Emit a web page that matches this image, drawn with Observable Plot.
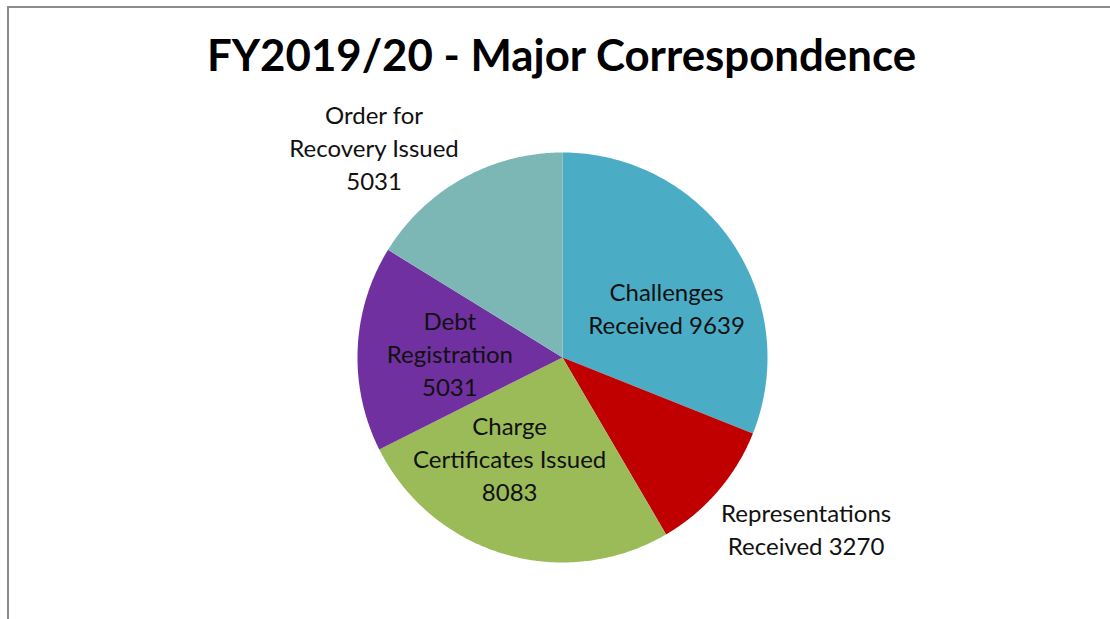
<!DOCTYPE html>
<html>
<head>
<meta charset="utf-8">
<script src="https://cdn.jsdelivr.net/npm/d3@7"></script>
<script src="https://cdn.jsdelivr.net/npm/@observablehq/plot@0.6"></script>
<style>
  html, body { margin: 0; padding: 0; background: #fff; }
  #wrap { position: relative; width: 1110px; height: 619px; overflow: hidden; }
  #frame { position: absolute; left: 7px; top: 6px; width: 1200px; height: 700px;
           border-left: 2px solid #8c8c8c; border-top: 2px solid #8c8c8c; box-sizing: border-box; }
  #title { position: absolute; left: 0; width: 1123px; top: 28px; text-align: center;
           font-family: Lato, "Open Sans", sans-serif; font-weight: bold; font-size: 43.8px; color: #000; line-height: 1.2; }
  #chart { position: absolute; left: 0; top: 0; }
</style>
</head>
<body>
<div id="wrap">
  <div id="frame"></div>
  <div id="chart"></div>
  <div id="title">FY2019/20 - Major Correspondence</div>
</div>
<script>
const categories = ["Challenges Received", "Representations Received", "Charge Certificates Issued", "Debt Registration", "Order for Recovery Issued"];
const values = [9639, 3270, 8083, 5031, 5031];
const labelLines = [
  ["Challenges", "Received 9639"],
  ["Representations", "Received 3270"],
  ["Charge", "Certificates Issued", "8083"],
  ["Debt", "Registration", "5031"],
  ["Order for", "Recovery Issued", "5031"]
];
const colors = ["#4BACC6", "#C00000", "#9BBB59", "#7030A0", "#7DB7B5"];
const labelRadius = [0.565, 1.45, 0.55, 0.55, 1.38];
const labelAngleShift = [0.14, -0.1, 0.2, 0, -0.22];

const W = 1110, H = 619, cx = 562, cy = 357, R = 205;

const arcs = d3.pie().sort(null).value(d => d)(values);
const slicePts = [];
arcs.forEach((a, i) => {
  slicePts.push({x: 0, y: 0, k: categories[i]});
  const n = 120;
  for (let j = 0; j <= n; j++) {
    const t = a.startAngle + (a.endAngle - a.startAngle) * j / n;
    slicePts.push({x: Math.sin(t), y: Math.cos(t), k: categories[i]});
  }
  slicePts.push({x: 0, y: 0, k: categories[i]});
});

const labels = [];
arcs.forEach((a, i) => {
  const mid = (a.startAngle + a.endAngle) / 2 + labelAngleShift[i];
  const r = labelRadius[i];
  labels.push({x: r * Math.sin(mid), y: r * Math.cos(mid), text: labelLines[i].join("\n")});
});

const plot = Plot.plot({
  width: W, height: H,
  margin: 0,
  x: {domain: [-cx / R, (W - cx) / R], range: [0, W], axis: null},
  y: {domain: [-(H - cy) / R, cy / R], range: [H, 0], axis: null},
  color: {domain: categories, range: colors},
  style: {background: "transparent", overflow: "visible"},
  marks: [
    Plot.line(slicePts, {x: "x", y: "y", z: "k", fill: "k", stroke: "none", curve: "linear"}),
    Plot.text(labels, {x: "x", y: "y", text: "text", fontSize: 24, lineHeight: 1.375,
      fontFamily: "Lato, 'Open Sans', sans-serif", fill: "#111", textAnchor: "middle"})
  ]
});
document.getElementById("chart").appendChild(plot);
</script>
</body>
</html>
